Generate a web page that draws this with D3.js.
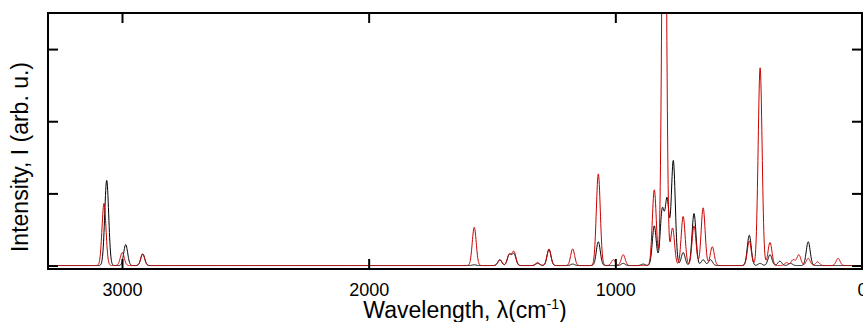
<!DOCTYPE html>
<meta charset="utf-8">
<style>
html, body{
  margin: 0;
  padding: 0;
  background: #fff;
}
svg{
  display: block;
  font-family: "Liberation Sans", Arial, sans-serif;
}
</style>
<body>
<script src="https://d3js.org/d3.v7.min.js"></script>
<script>

// peak positions (cm-1) and heights (arb. u.)
var blackPos = [3062, 2985, 2916, 1572, 1468, 1430, 1411, 1315, 1269, 1173, 1069, 968, 887,
                842, 810, 790, 765, 725, 681, 644, 614, 457, 413, 373, 333, 290, 218];
var blackH   = [1.18, 0.29, 0.16, 0.01, 0.08, 0.15, 0.16, 0.03, 0.22, 0.02, 0.33, 0.03, 0.02,
                0.55, 0.76, 0.90, 1.45, 0.18, 0.72, 0.08, 0.08, 0.42, 0.03, 0.15, 0.06, 0.03, 0.33];

var redPos = [3073, 2999, 2916, 1572, 1468, 1430, 1411, 1315, 1269, 1173, 1069, 1008, 968,
              842, 802, 768, 725, 681, 644, 607, 457, 413, 373, 306, 279, 256, 218, 180, 97];
var redH   = [0.86, 0.18, 0.16, 0.53, 0.08, 0.15, 0.19, 0.04, 0.23, 0.23, 1.27, 0.08, 0.15,
              1.05, 8.0, 0.52, 0.68, 0.55, 0.80, 0.26, 0.34, 2.74, 0.32, 0.04, 0.08, 0.15, 0.10, 0.05, 0.10];

var xTicks = [3000, 2000, 1000, 0];
var yTicks = [0, 1, 2, 3];

var width = 863,
    height = 322;

var pLeft = 48, pRight = 862, pTop = 13, pBottom = 269;

var x = d3.scaleLinear().domain([3300, 0]).range([pLeft, pRight]);
var y = d3.scaleLinear().domain([-0.048, 3.5]).range([pBottom, pTop]);

var sigma = 8;

// sampling grid for the broadened spectrum
var grid = d3.range(3300, -1, -1);

function spectrum(pos, h){
  return grid.map(function(w){
    var s = 0;
    for (var i = 0; i < pos.length; i++){
      var d = (w - pos[i]) / sigma;
      s += h[i] * Math.exp(-0.5 * d * d);
    }
    return [w, s];
  });
}

var svg = d3.select("body").append("svg")
    .attr("width", width)
    .attr("height", height);

svg.append("defs").append("clipPath")
    .attr("id", "plot")
  .append("rect")
    .attr("x", pLeft)
    .attr("y", pTop)
    .attr("width", pRight - pLeft)
    .attr("height", pBottom - pTop);

var line = d3.line()
    .x(function(d){ return x(d[0]); })
    .y(function(d){ return y(d[1]); });

var g = svg.append("g").attr("clip-path", "url(#plot)");

g.append("path")
    .datum(spectrum(blackPos, blackH))
    .attr("fill", "none")
    .attr("stroke", "#000")
    .attr("stroke-width", 1)
    .attr("d", line);

g.append("path")
    .datum(spectrum(redPos, redH))
    .attr("fill", "none")
    .attr("stroke", "#cc0000")
    .attr("stroke-width", 1)
    .attr("d", line);

// axes, ticks pointing inward on all four sides
svg.append("g")
    .attr("class", "xb")
    .attr("transform", "translate(0," + pBottom + ")")
    .call(d3.axisBottom(x).tickValues(xTicks).tickSizeInner(-10).tickSizeOuter(0)
      .tickPadding(14).tickFormat(d3.format("d")));

svg.append("g")
    .attr("transform", "translate(0," + pTop + ")")
    .call(d3.axisTop(x).tickValues(xTicks).tickSizeInner(-10).tickSizeOuter(0).tickFormat(""));

svg.append("g")
    .attr("transform", "translate(" + pLeft + ",0)")
    .call(d3.axisLeft(y).tickValues(yTicks).tickSizeInner(-10).tickSizeOuter(0).tickFormat(""));

svg.append("g")
    .attr("transform", "translate(" + pRight + ",0)")
    .call(d3.axisRight(y).tickValues(yTicks).tickSizeInner(-10).tickSizeOuter(0).tickFormat(""));

svg.selectAll(".domain").remove();
svg.selectAll(".tick line").attr("stroke", "#000").attr("stroke-width", 2);
svg.select("g.xb")
    .attr("font-size", 18)
    .attr("font-family", "'Liberation Sans', Arial, sans-serif");
svg.selectAll(".tick text").attr("fill", "#000");

svg.append("rect")
    .attr("x", pLeft)
    .attr("y", pTop)
    .attr("width", pRight - pLeft)
    .attr("height", pBottom - pTop)
    .attr("fill", "none")
    .attr("stroke", "#000")
    .attr("stroke-width", 2);

var xl = svg.append("text")
    .attr("x", 465)
    .attr("y", 318)
    .attr("text-anchor", "middle")
    .attr("font-size", 23);
xl.append("tspan").text("Wavelength, \u03bb(cm");
xl.append("tspan").attr("dy", -9).attr("font-size", 14).text("-1");
xl.append("tspan").attr("dy", 9).text(")");

svg.append("text")
    .attr("transform", "translate(28,157) rotate(-90)")
    .attr("text-anchor", "middle")
    .attr("font-size", 23)
    .text("Intensity, I (arb. u.)");

</script>
</body>
